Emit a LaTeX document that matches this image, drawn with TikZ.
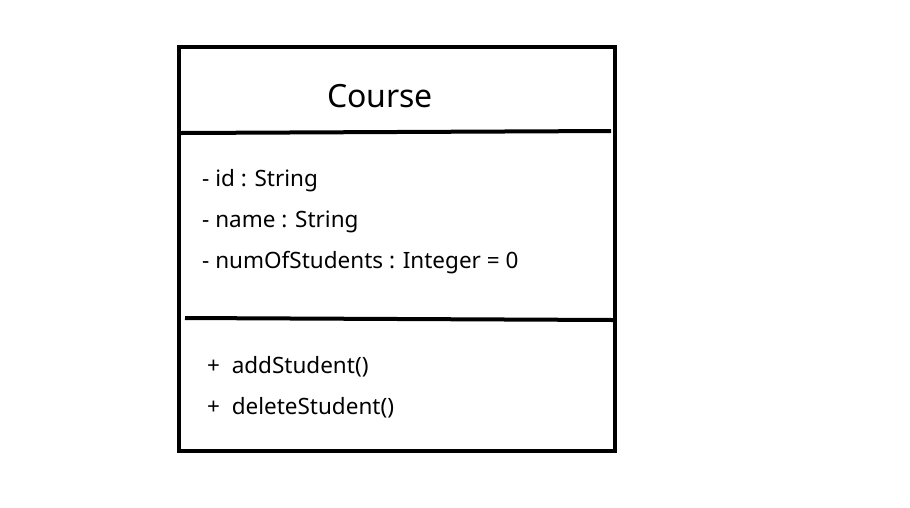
\documentclass[tikz,border=0pt]{standalone}
\usepackage{fontspec}
\setmainfont{Noto Sans}
\begin{document}
\begin{tikzpicture}[x=1pt,y=-1pt,
  txt/.style={anchor=base west,inner sep=0pt,font=\fontsize{22.5}{26}\selectfont},
  frame/.style={line width=4pt}]
\useasboundingbox[fill=white] (0,0) rectangle (910,507);
\draw[frame] (179,47) rectangle (615,451);
\draw[frame] (181,133) -- (611,131);
\draw[frame] (185,318) -- (613,320);
\node[anchor=base,inner sep=0pt,font=\fontsize{32}{38}\selectfont] (title) at (380,107) {Course};
\node[txt] (a1) at (202,186) {- id : String};
\node[txt] (a2) at (202,227) {- name : String};
\node[txt] (a3) at (202,268) {- numOfStudents : Integer = 0};
\node[txt] (m1) at (207,373) {+ \ addStudent()};
\node[txt] (m2) at (207,414) {+ \ deleteStudent()};
\end{tikzpicture}
\end{document}
